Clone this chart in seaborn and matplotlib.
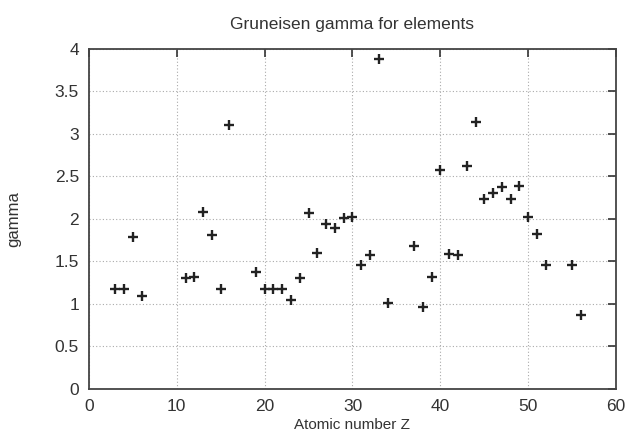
import matplotlib
matplotlib.use("Agg")
import matplotlib.pyplot as plt
import seaborn as sns
import pandas as pd

# Atomic number Z and the Gruneisen gamma of each element
z = [3, 4, 5, 6, 11, 12, 13, 14, 15, 16, 19, 20, 21, 22, 23, 24, 25, 26, 27, 28,
     29, 30, 31, 32, 33, 34, 37, 38, 39, 40, 41, 42, 43, 44, 45, 46, 47, 48, 49,
     50, 51, 52, 55, 56]
gamma = [1.17, 1.18, 1.79, 1.09, 1.31, 1.32, 2.08, 1.81, 1.17, 3.11, 1.37, 1.17,
         1.17, 1.18, 1.05, 1.30, 2.07, 1.60, 1.94, 1.89, 2.01, 2.02, 1.46, 1.57,
         3.88, 1.01, 1.68, 0.96, 1.32, 2.58, 1.59, 1.58, 2.62, 3.14, 2.24, 2.30,
         2.38, 2.24, 2.39, 2.02, 1.82, 1.46, 1.46, 0.87]

df = pd.DataFrame({"Z": z, "gamma": gamma})

sns.set_style("white")
plt.rcParams["font.family"] = ["Liberation Sans", "DejaVu Sans"]

fig = plt.figure(figsize=(6.3, 4.37), dpi=100)
ax = fig.add_axes([0.141, 0.110, 0.837, 0.778])

sns.scatterplot(data=df, x="Z", y="gamma", marker="+", s=44, color="#222222",
                linewidth=1.7, ax=ax, zorder=3)

ax.set_xlim(0, 60)
ax.set_ylim(0, 4)
ax.set_xticks(range(0, 61, 10))
ax.set_yticks([0, 0.5, 1, 1.5, 2, 2.5, 3, 3.5, 4])
ax.set_yticklabels(["0", "0.5", "1", "1.5", "2", "2.5", "3", "3.5", "4"])

ax.grid(True, color="#aaaaaa", linestyle=(0, (1, 2)), linewidth=0.8)
ax.tick_params(direction="in", length=6, width=1.2, top=True, right=True,
               labelsize=12.5, colors="#333333", pad=7)
for s in ax.spines.values():
    s.set_color("#444444")
    s.set_linewidth(1.3)

ax.set_xlabel("Atomic number Z", fontsize=11, color="#333333", labelpad=3)
ax.set_ylabel("gamma", fontsize=12, color="#333333", labelpad=24)
ax.set_title("Gruneisen gamma for elements", fontsize=12.5, color="#333333", pad=14)

fig.savefig("out.png", dpi=100)
